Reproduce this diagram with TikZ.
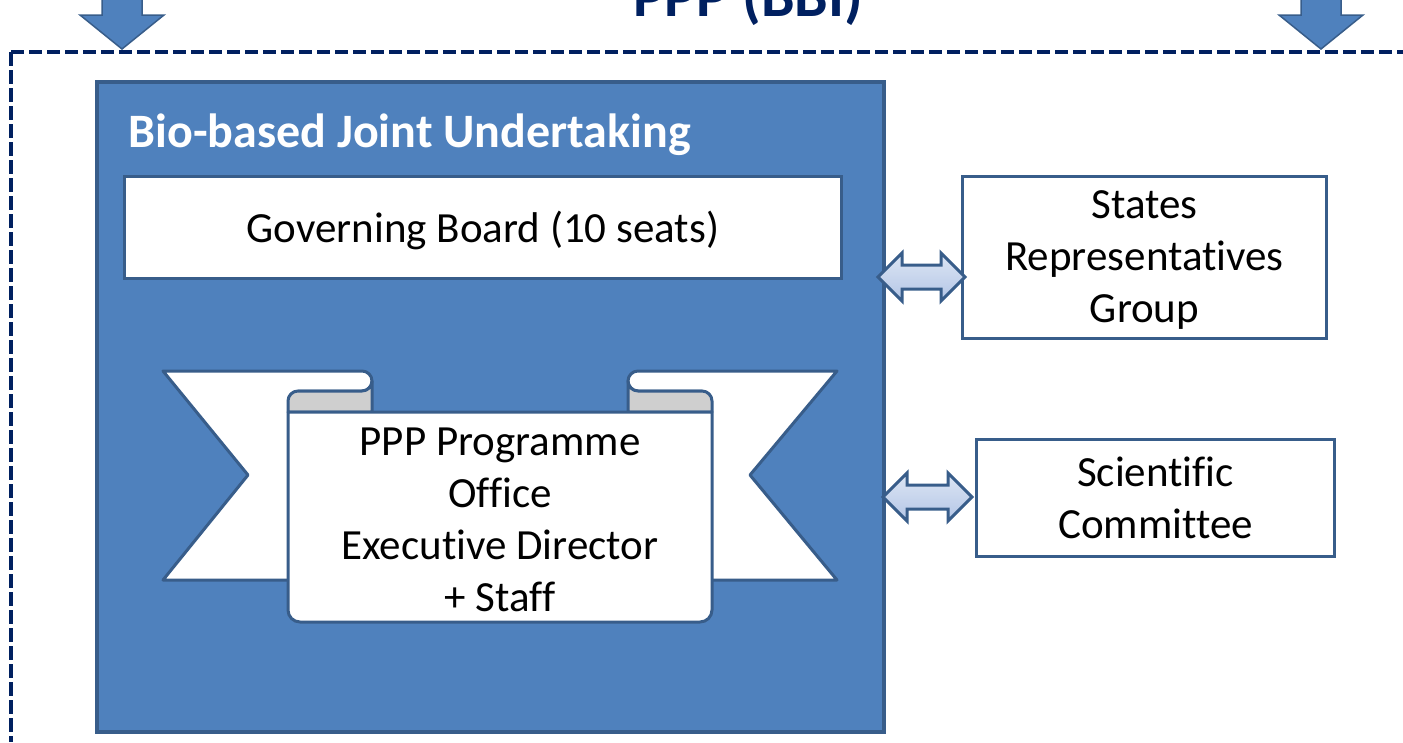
\documentclass[tikz,border=0pt]{standalone}
\usepackage{fontspec}
\setmainfont{Carlito}[Ligatures=NoCommon]
\usetikzlibrary{positioning}
\definecolor{bbiblue}{HTML}{4F81BD}
\definecolor{bbiedge}{HTML}{385D8A}
\definecolor{bbinavy}{HTML}{002060}
\definecolor{foldgray}{HTML}{CFCFCF}
\definecolor{arrowtop}{HTML}{DDE6F4}
\definecolor{arrowbot}{HTML}{B3C5E6}
\tikzset{
    whitebox/.style={draw=bbiedge, line width=3pt, fill=white, inner sep=0pt, anchor=north west},
    bigtext/.style={font=\fontsize{43}{52}\selectfont, align=center},
    linkarrow/.style={draw=bbiedge, line width=3pt, top color=arrowtop, bottom color=arrowbot, line join=miter},
    ribbon/.style={draw=bbiedge, line width=3pt, line join=round},
}
\def\linkarrow(#1,#2)#3% Syntax: (left tip x, right tip x) {y}
{ \draw[linkarrow] (#1,#3) -- (#1+24,#3-24) -- (#1+24,#3-12) -- (#2-24,#3-12) -- (#2-24,#3-24) -- (#2,#3)
	-- (#2-24,#3+24) -- (#2-24,#3+12) -- (#1+24,#3+12) -- (#1+24,#3+24) -- cycle; }

\begin{document}
\begin{tikzpicture}[x=1pt, y=-1pt] % BBI structure
	\useasboundingbox (0,0) rectangle (1403,742);
	% title, cut at the top of the page
	\node[font=\fontsize{60}{60}\selectfont\bfseries, text=bbinavy, anchor=base] (title) at (748,16) {PPP (BBI)};
	\foreach \ax in {122,1321}
		\draw[draw=bbiedge, line width=1.5pt, fill=bbiblue, line join=miter] (\ax-20,-5) -- (\ax-20,15) -- (\ax-42,15) -- (\ax,49) -- (\ax+42,15) -- (\ax+20,15) -- (\ax+20,-5) -- cycle;
	\coordinate (corner) at (11,52);
	\draw[bbinavy, line width=4pt, dash pattern=on 13pt off 5pt] (corner) -- (1403,52);
	\draw[bbinavy, line width=4pt, dash pattern=on 14pt off 4pt] (corner) -- (11,742);
	% the joint undertaking
	\node[draw=bbiedge, line width=4pt, fill=bbiblue, minimum width=787pt, minimum height=650pt, inner sep=0pt, anchor=north west] (bju) at (95,80) {};
	\node[font=\fontsize{48}{50}\selectfont\bfseries, text=white, anchor=base west] (bjutitle) at (125,147) {Bio-based Joint Undertaking};
	\node[whitebox, bigtext, minimum width=717pt, minimum height=102pt, text depth=2pt] (gb) at (123,175) {Governing Board (10 seats)};
	% ribbon with the programme office
	\draw[ribbon, fill=white] (298,580) -- (163,580) -- (248,475) -- (163,371) -- (362,371) arc[start angle=-90, end angle=90, radius=10] -- (298,391) -- cycle;
	\draw[ribbon, fill=white] (702,580) -- (837,580) -- (750,475) -- (837,371) -- (638,371) arc[start angle=-90, end angle=-270, radius=10] -- (702,391) -- cycle;
	\draw[ribbon, fill=foldgray] (288,412) -- (288,401) arc[start angle=180, end angle=270, radius=10] -- (362,391) arc[start angle=90, end angle=0, radius=10] -- (372,412) -- cycle;
	\draw[ribbon, fill=foldgray] (712,412) -- (712,401) arc[start angle=0, end angle=-90, radius=10] -- (638,391) arc[start angle=90, end angle=180, radius=10] -- (628,412) -- cycle;
	\draw[ribbon, fill=white] (288,412) -- (288,610) arc[start angle=180, end angle=90, radius=12] -- (700,622) arc[start angle=90, end angle=0, radius=12] -- (712,412) -- cycle;
	\node[bigtext] (office) at (500,520) {PPP Programme\\Office\\Executive Director\\+ Staff};
	% groups outside
	\node[whitebox, bigtext, minimum width=364pt, minimum height=162pt, text depth=2pt] (srg) at (961,175) {States\\Representatives\\Group};
	\node[whitebox, bigtext, minimum width=358pt, minimum height=117pt] (sc) at (975,438) {Scientific\\Committee};
	\linkarrow(878,965){277}
	\linkarrow(883,972){497}
\end{tikzpicture}
\end{document}
